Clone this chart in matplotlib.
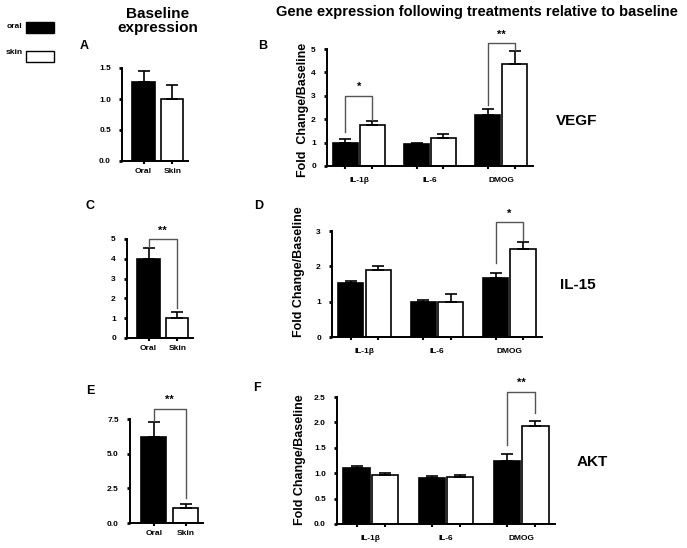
import matplotlib
matplotlib.use('Agg')
import matplotlib.pyplot as plt
from matplotlib.patches import Rectangle

plt.rcParams['font.family'] = ['Liberation Sans', 'DejaVu Sans']
plt.rcParams['font.weight'] = 'bold'

W, H = 687, 548

# baseline panels (oral vs skin)
base_labels = ['Oral', 'Skin']
vegf_base = [1.28, 1.0]
vegf_base_err = [0.17, 0.23]
il15_base = [4.0, 1.0]
il15_base_err = [0.55, 0.3]
akt_base = [6.2, 1.1]
akt_base_err = [1.1, 0.25]

# treatment panels
treatments = ['IL-1\u03b2', 'IL-6', 'DMOG']
vegf_oral = [1.0, 0.93, 2.2]
vegf_oral_err = [0.15, 0.07, 0.25]
vegf_skin = [1.75, 1.2, 4.35]
vegf_skin_err = [0.18, 0.18, 0.55]
il15_oral = [1.52, 0.98, 1.68]
il15_oral_err = [0.06, 0.07, 0.12]
il15_skin = [1.9, 1.0, 2.5]
il15_skin_err = [0.12, 0.22, 0.2]
akt_oral = [1.1, 0.9, 1.25]
akt_oral_err = [0.04, 0.04, 0.12]
akt_skin = [0.97, 0.92, 1.92]
akt_skin_err = [0.04, 0.04, 0.11]


def px_axes(fig, l, b, r, t):
    return fig.add_axes([l / W, 1 - b / H, (r - l) / W, (b - t) / H])


def style(ax, yticks, fmt):
    for s in ['top', 'right']:
        ax.spines[s].set_visible(False)
    for s in ['left', 'bottom']:
        ax.spines[s].set_linewidth(1.4)
    ax.set_yticks(yticks)
    ax.set_yticklabels([fmt % v for v in yticks], fontsize=6, fontweight='bold')
    ax.set_ylim(0, yticks[-1])
    ax.tick_params(axis='y', length=2, width=2, pad=6)
    ax.tick_params(axis='x', length=2, width=1.5, pad=3)


def bracket(ax, x1, x2, top, y1, y2, label, dy):
    ax.plot([x1, x1, x2, x2], [y1, top, top, y2], color='#555555', lw=1.0, clip_on=False)
    ax.text((x1 + x2) / 2, top + dy, label, ha='center', va='bottom', fontsize=8,
            fontweight='bold')


def base_panel(box, vals, errs, yticks, fmt, sig=None):
    ax = px_axes(fig, *box)
    x = [0, 1]
    ax.bar(x[0], vals[0], 0.78, color='black', edgecolor='black', lw=1.2,
           yerr=[[0], [errs[0]]], error_kw=dict(capsize=4, elinewidth=1.2, capthick=1.2))
    ax.bar(x[1], vals[1], 0.78, color='white', edgecolor='black', lw=1.2,
           yerr=[[0], [errs[1]]], error_kw=dict(capsize=4, elinewidth=1.2, capthick=1.2))
    ax.set_xlim(-0.75, 1.55)
    ax.set_xticks(x)
    ax.set_xticklabels(base_labels, fontsize=6, fontweight='bold')
    style(ax, yticks, fmt)
    if sig:
        top, y1, y2, dy = sig
        bracket(ax, 0, 1, top, y1, y2, '**', dy)
    return ax


def treat_panel(box, oral, oral_err, skin, skin_err, yticks, fmt, sigs):
    ax = px_axes(fig, *box)
    g = range(len(treatments))
    xo = [i - 0.19 for i in g]
    xs = [i + 0.19 for i in g]
    ek = dict(capsize=4, elinewidth=1.2, capthick=1.2)
    ax.bar(xo, oral, 0.35, color='black', edgecolor='black', lw=1.2,
           yerr=[[0] * 3, oral_err], error_kw=ek)
    ax.bar(xs, skin, 0.35, color='white', edgecolor='black', lw=1.2,
           yerr=[[0] * 3, skin_err], error_kw=ek)
    ax.set_xlim(-0.45, 2.45)
    ax.set_xticks(list(g))
    ax.set_xticklabels(treatments, fontsize=6, fontweight='bold')
    ax.set_xticks(xo + xs, minor=True)
    style(ax, yticks, fmt)
    ax.tick_params(axis='x', which='major', length=0, pad=8)
    ax.tick_params(axis='x', which='minor', length=2, width=1.5)
    for gi, top, y1, y2, label, dy in sigs:
        bracket(ax, xo[gi], xs[gi], top, y1, y2, label, dy)
    return ax


fig = plt.figure(figsize=(W / 100, H / 100), dpi=100)

# A, C, E
base_panel((122, 161, 188, 68), vegf_base, vegf_base_err, [0, 0.5, 1.0, 1.5], '%.1f')
base_panel((127, 338, 193, 239), il15_base, il15_base_err, [0, 1, 2, 3, 4, 5], '%d',
           (5.0, 4.6, 1.52, 0.15))
base_panel((130, 523, 203, 419), akt_base, akt_base_err, [0, 2.5, 5.0, 7.5], '%.1f',
           (8.2, 7.35, 1.8, 0.3))

# B, D, F
treat_panel((327, 166, 533, 49), vegf_oral, vegf_oral_err, vegf_skin, vegf_skin_err,
            [0, 1, 2, 3, 4, 5], '%d',
            [(0, 3.0, 1.46, 1.96, '*', 0.15), (2, 5.25, 2.6, 4.95, '**', 0.15)])
treat_panel((332, 337, 542, 231), il15_oral, il15_oral_err, il15_skin, il15_skin_err,
            [0, 1, 2, 3], '%d',
            [(2, 3.25, 2.1, 2.75, '*', 0.1)])
treat_panel((337, 524, 555, 397), akt_oral, akt_oral_err, akt_skin, akt_skin_err,
            [0, 0.5, 1.0, 1.5, 2.0, 2.5], '%.1f',
            [(2, 2.6, 1.55, 2.18, '**', 0.08)])


def ftext(x, y, s, **kw):
    fig.text(x / W, 1 - y / H, s, **kw)


# titles
ftext(158, 21, 'Baseline\nexpression', ha='center', va='center', fontsize=11,
      fontweight='bold', linespacing=1.05)
ftext(477, 12, 'Gene expression following treatments relative to baseline',
      ha='center', va='center', fontsize=10.5, fontweight='bold')

# panel letters
for x, y, s in [(84, 46, 'A'), (263, 46, 'B'), (90, 206, 'C'), (259, 206, 'D'),
                (90, 391, 'E'), (257, 388, 'F')]:
    ftext(x, y, s, ha='center', va='center', fontsize=9, fontweight='bold')

# y labels
for x, y, s in [(303, 110, 'Fold  Change/Baseline'), (299, 272, 'Fold Change/Baseline'),
                (300, 460, 'Fold Change/Baseline')]:
    ftext(x, y, s, ha='center', va='center', rotation=90, fontsize=9, fontweight='bold')

# gene labels
for x, y, s in [(577, 121, 'VEGF'), (578, 285, 'IL-15'), (592, 462, 'AKT')]:
    ftext(x, y, s, ha='center', va='center', fontsize=11, fontweight='bold')

# legend
ftext(14, 27, 'oral', ha='center', va='center', fontsize=6, fontweight='bold')
ftext(14, 52, 'skin', ha='center', va='center', fontsize=6, fontweight='bold')
fig.patches.append(Rectangle((26 / W, 1 - 33 / H), 28 / W, 11 / H, transform=fig.transFigure,
                             facecolor='black', edgecolor='black', lw=1))
fig.patches.append(Rectangle((26 / W, 1 - 62 / H), 28 / W, 11 / H, transform=fig.transFigure,
                             facecolor='white', edgecolor='black', lw=1))

fig.savefig('out.png', dpi=100)
